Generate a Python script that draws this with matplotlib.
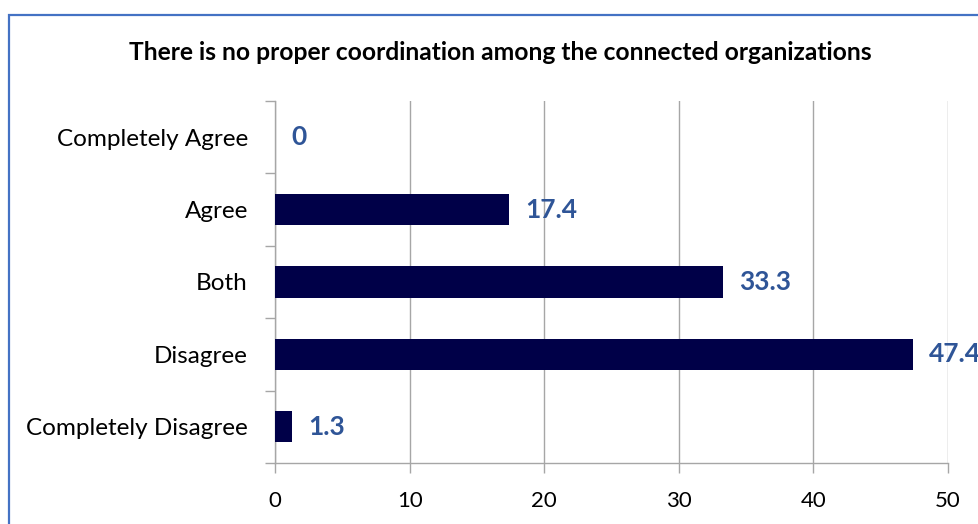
import matplotlib
matplotlib.use("Agg")
import matplotlib.pyplot as plt
from matplotlib.patches import Rectangle
from matplotlib.ticker import FixedLocator

categories = ["Completely Agree", "Agree", "Both", "Disagree", "Completely Disagree"]
values = [0, 17.4, 33.3, 47.4, 1.3]
x_ticks = [0, 10, 20, 30, 40, 50]

plt.rcParams["font.family"] = ["Lato", "DejaVu Sans"]

W, H = 979, 524
fig = plt.figure(figsize=(W / 100, H / 100), dpi=100)
fig.patch.set_facecolor("white")

# outer chart frame
fig.patches.append(Rectangle((9 / W, -0.1), 1.2, 1 - 15 / H + 0.1,
                             transform=fig.transFigure, fill=False,
                             edgecolor="#4472C4", linewidth=1.6))

ax = fig.add_axes([275 / W, 1 - 463 / H, (948 - 275) / W, (463 - 101) / H])

grid_c = "#A6A6A6"
ypos = list(range(len(categories)))
ax.barh(ypos, values, height=0.43, color="#000048", zorder=3)

for y, v in zip(ypos, values):
    ax.text(v + 1.2, y, f"{v:g}", va="center", ha="left", fontsize=19,
            fontweight="bold", color="#2F5597", clip_on=False)

ax.set_xlim(0, 50)
ax.set_ylim(len(categories) - 0.5, -0.5)
ax.set_xticks(x_ticks)
ax.set_xticklabels([str(t) for t in x_ticks], fontsize=16)
ax.set_yticks(ypos)
ax.set_yticklabels(categories, fontsize=17.5)
ax.yaxis.set_minor_locator(FixedLocator([i - 0.5 for i in range(len(categories) + 1)]))

ax.tick_params(axis="y", which="major", length=0, pad=19.5)
ax.tick_params(axis="y", which="minor", length=7, color=grid_c, width=1)
ax.tick_params(axis="x", length=7, color=grid_c, width=1, pad=13)

ax.grid(axis="x", color=grid_c, linewidth=1, zorder=0)
for s in ["top", "right"]:
    ax.spines[s].set_visible(False)
for s in ["left", "bottom"]:
    ax.spines[s].set_color(grid_c)
    ax.spines[s].set_linewidth(1)

fig.text(500 / W, 1 - 52 / H, "There is no proper coordination among the connected organizations",
         ha="center", va="center", fontsize=17.7, fontweight="bold", color="black")

fig.savefig("out.png", dpi=100, facecolor="white")
